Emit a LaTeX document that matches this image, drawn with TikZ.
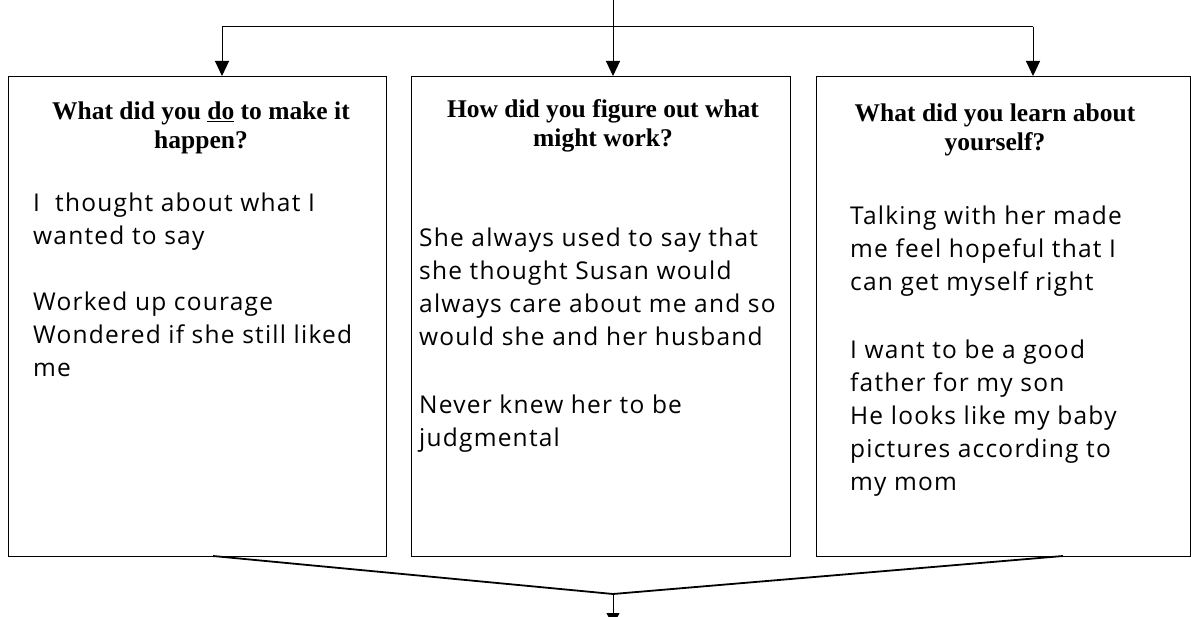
\documentclass[tikz,border=0pt]{standalone}
\usepackage{fontspec}
\setmainfont{Liberation Serif}
\newfontfamily\handfont[LetterSpace=5]{Open Sans}
\usetikzlibrary{arrows.meta}
\tikzset{
  panel/.style={draw=black, line width=1.4pt, inner sep=0pt, anchor=north west, minimum width=#1, minimum height=480pt},
  ttl/.style={anchor=base, inner sep=0pt, font=\fontsize{25.5}{28.5}\selectfont\bfseries},
  hand/.style={anchor=base west, inner sep=0pt, font=\handfont\fontsize{24.5}{33}\selectfont},
  conn/.style={line width=1pt},
  merge/.style={line width=1.8pt},
  arr/.style={line width=1pt, -{Triangle[length=15pt,width=14pt]}},
  smallarr/.style={line width=1pt, -{Triangle[length=12pt,width=13pt]}}
}
\begin{document}
\begin{tikzpicture}[x=1pt,y=-1pt]
\useasboundingbox (0,0) rectangle (1191,617);
\fill[white] (0,0) rectangle (1191,617);

% panels
\node[panel=378pt] (b1) at (8,76) {};
\node[panel=379pt] (b2) at (411,76) {};
\node[panel=374pt] (b3) at (816,76) {};

% titles
\node[ttl] (t1) at (201,120) {\parbox[t]{360pt}{\centering What did you \underline{do} to make it\\ happen?}};
\node[ttl] (t2) at (603,118) {\parbox[t]{360pt}{\centering How did you figure out what\\ might work?}};
\node[ttl] (t3) at (995,122) {\parbox[t]{360pt}{\centering What did you learn about\\ yourself?}};

% handwritten bodies
\node[hand] (h1) at (33,212) {\parbox[t]{350pt}{\raggedright
I\ \ thought about what I\\
wanted to say\\[33pt]
Worked up courage\\
Wondered if she still liked\\
me}};
\node[hand] (h2) at (419,247) {\parbox[t]{370pt}{\raggedright
She always used to say that\\
she thought Susan would\\
always care about me and so\\
would she and her husband\\[35pt]
Never knew her to be\\
judgmental}};
\node[hand] (h3) at (850,225) {\parbox[t]{340pt}{\raggedright
Talking with her made\\
me feel hopeful that I\\
can get myself right\\[35pt]
I want to be a good\\
father for my son\\
He looks like my baby\\
pictures according to\\
my mom}};

% top connectors
\coordinate (src) at (613,0);
\coordinate (split) at (613,27);
\coordinate (lft) at (222,27);
\coordinate (rgt) at (1033,27);
\draw[conn] (src) -- (split);
\draw[conn] (lft) -- (rgt);
\draw[arr] (lft) -- (lft |- b1.north);
\draw[arr] (split) -- (split |- b2.north);
\draw[arr] (rgt) -- (rgt |- b3.north);

% bottom merge
\coordinate (m1) at (213,556);
\coordinate (m3) at (1063,556);
\coordinate (join) at (613,594);
\coordinate (out) at (613,625);
\draw[merge] (m1) -- (join) -- (m3);
\draw[smallarr] (join) -- (out);
\end{tikzpicture}
\end{document}
